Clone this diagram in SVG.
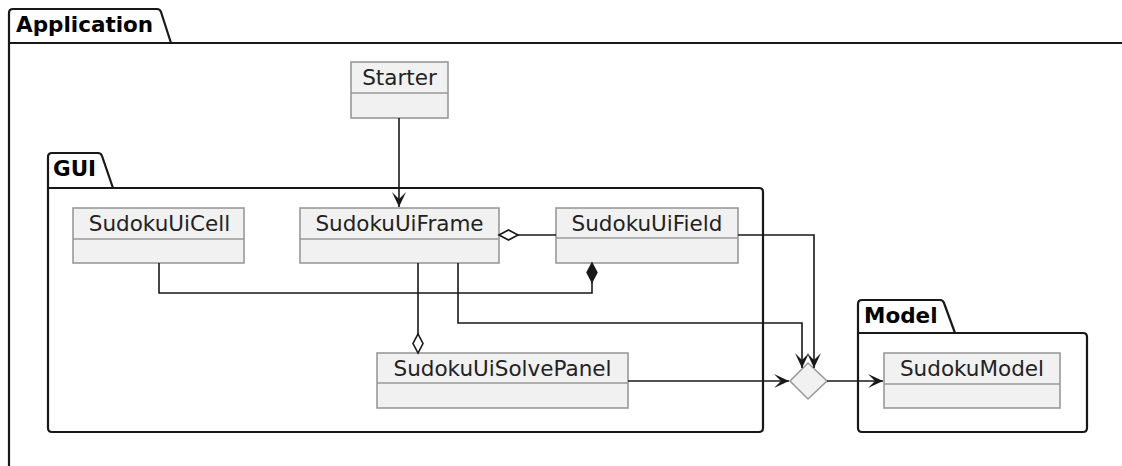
<svg xmlns="http://www.w3.org/2000/svg" width="1122" height="466" viewBox="0 0 1122 466">
  <style>
    .pkg { fill: none; stroke: #181818; stroke-width: 2.2; stroke-linejoin: round; }
    .pkgtitle { font-family: "DejaVu Sans", sans-serif; font-weight: bold; font-size: 21.5px; fill: #000; }
    .cls { fill: #f1f1f1; stroke: #999; stroke-width: 1.6; }
    .div { stroke: #999; stroke-width: 1.6; }
    .name { font-family: "DejaVu Sans", sans-serif; font-size: 21.5px; fill: #222; text-anchor: middle; }
    .link { fill: none; stroke: #181818; stroke-width: 1.6; }
  </style>
  <defs>
    <marker id="arrow" markerUnits="userSpaceOnUse" markerWidth="20" markerHeight="20" refX="0" refY="0" viewBox="-16 -10 20 20" orient="auto">
      <path d="M0,0 L-15,-7 L-8,0 L-15,7 Z" fill="#181818"/>
    </marker>
  </defs>
  <rect width="1122" height="466" fill="#fff"/>

  <!-- packages -->
  <g id="pkg-application">
    <path class="pkg" d="M9,466 L9,13 Q9,9 13,9 L157,9 Q160,9 161,12 L171,43 M9,43 L1124,43"/>
    <text class="pkgtitle" x="16" y="32">Application</text>
  </g>
  <g id="pkg-gui">
    <path class="pkg" d="M48,188 L48,157 Q48,153 52,153 L98,153 Q101,153 102,156 L113,188 M48,188 L759,188 Q763,188 763,192 L763,428 Q763,432 759,432 L52,432 Q48,432 48,428 Z"/>
    <text class="pkgtitle" x="53" y="176">GUI</text>
  </g>
  <g id="pkg-model">
    <path class="pkg" d="M858,333 L858,304 Q858,300 862,300 L940,300 Q943,300 944,303 L955,333 M858,333 L1083,333 Q1087,333 1087,337 L1087,428 Q1087,432 1083,432 L862,432 Q858,432 858,428 Z"/>
    <text class="pkgtitle" x="864" y="323">Model</text>
  </g>

  <!-- classes -->
  <g id="Starter">
    <rect class="cls" x="351" y="62" width="97" height="56"/>
    <line class="div" x1="351" y1="93" x2="448" y2="93"/>
    <text class="name" x="399.5" y="85">Starter</text>
  </g>
  <g id="SudokuUiCell">
    <rect class="cls" x="73" y="208" width="171" height="55"/>
    <line class="div" x1="73" y1="239" x2="244" y2="239"/>
    <text class="name" x="159.5" y="231">SudokuUiCell</text>
  </g>
  <g id="SudokuUiFrame">
    <rect class="cls" x="300" y="208" width="199" height="55"/>
    <line class="div" x1="300" y1="239" x2="499" y2="239"/>
    <text class="name" x="399.5" y="231">SudokuUiFrame</text>
  </g>
  <g id="SudokuUiField">
    <rect class="cls" x="556" y="208" width="182" height="55"/>
    <line class="div" x1="556" y1="238" x2="738" y2="238"/>
    <text class="name" x="647" y="231">SudokuUiField</text>
  </g>
  <g id="SudokuUiSolvePanel">
    <rect class="cls" x="377" y="353" width="251" height="55"/>
    <line class="div" x1="377" y1="383" x2="628" y2="383"/>
    <text class="name" x="502.5" y="376">SudokuUiSolvePanel</text>
  </g>
  <g id="SudokuModel">
    <rect class="cls" x="884" y="353" width="176" height="55"/>
    <line class="div" x1="884" y1="384" x2="1060" y2="384"/>
    <text class="name" x="972" y="376">SudokuModel</text>
  </g>
  <g id="junction">
    <polygon points="790,381 808,363 827,381 808,399" fill="#f1f1f1" stroke="#999" stroke-width="1.6"/>
  </g>

  <!-- connectors -->
  <g id="connectors">
    <!-- Starter uses SudokuUiFrame -->
    <path class="link" d="M399,118 L399,207" marker-end="url(#arrow)"/>
    <!-- SudokuUiFrame aggregates SudokuUiField -->
    <path class="link" d="M518,235 L556,235"/>
    <polygon points="499,235 508.5,230 518,235 508.5,240" fill="#fff" stroke="#181818" stroke-width="1.6"/>
    <!-- SudokuUiField composes SudokuUiCell -->
    <path class="link" d="M159,263 L159,293 L592,293 L592,282"/>
    <polygon points="592,263 597,272.5 592,282 587,272.5" fill="#181818" stroke="#181818" stroke-width="1.4"/>
    <!-- SudokuUiFrame aggregates SudokuUiSolvePanel -->
    <path class="link" d="M418,263 L418,334"/>
    <polygon points="418,353 413,343.5 418,334 423,343.5" fill="#fff" stroke="#181818" stroke-width="1.6"/>
    <!-- SudokuUiFrame to junction -->
    <path class="link" d="M458,263 L458,323 L802,323 L802,368" marker-end="url(#arrow)"/>
    <!-- SudokuUiField to junction -->
    <path class="link" d="M738,235 L814,235 L814,368" marker-end="url(#arrow)"/>
    <!-- SudokuUiSolvePanel to junction -->
    <path class="link" d="M628,381 L789,381" marker-end="url(#arrow)"/>
    <!-- junction to SudokuModel -->
    <path class="link" d="M827,381 L883,381" marker-end="url(#arrow)"/>
  </g>
</svg>
